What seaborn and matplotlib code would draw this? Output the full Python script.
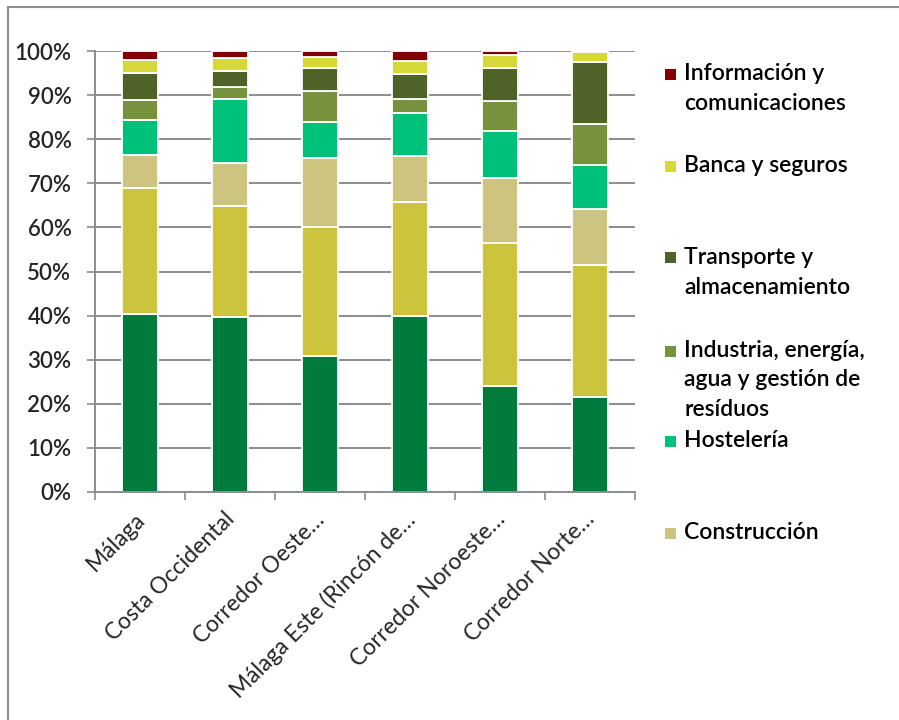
import matplotlib
matplotlib.use("Agg")
import matplotlib.pyplot as plt
import matplotlib.transforms as mtransforms
from matplotlib.patches import Rectangle
from matplotlib.lines import Line2D
from matplotlib.ticker import FixedLocator, FuncFormatter
import seaborn as sns

# Zones (x axis categories)
categories = [
    "Málaga",
    "Costa Occidental",
    "Corredor Oeste…",
    "Málaga Este (Rincón de…",
    "Corredor Noroeste…",
    "Corredor Norte…",
]

# Share of each sector per zone (%), bottom to top of each stack
comercio = [40.4, 39.6, 30.9, 39.8, 24.1, 21.6]
otros_servicios = [28.6, 25.3, 29.3, 26.0, 32.3, 29.8]
construccion = [7.4, 9.8, 15.5, 10.5, 14.9, 12.7]
hosteleria = [8.0, 14.4, 8.1, 9.7, 10.6, 10.0]
industria = [4.5, 2.8, 7.2, 3.1, 6.8, 9.3]
transporte = [6.0, 3.6, 5.2, 5.6, 7.4, 14.0]
banca = [3.1, 2.8, 2.4, 3.1, 3.0, 2.4]
informacion = [2.0, 1.7, 1.4, 2.2, 0.9, 0.2]

y_ticks = list(range(0, 101, 10))

series = [
    ("Comercio", comercio, "#007A3D"),
    ("Otros servicios", otros_servicios, "#CDC43E"),
    ("Construcción", construccion, "#CDC47F"),
    ("Hostelería", hosteleria, "#00C17A"),
    ("Industria, energía,\nagua y gestión de\nresíduos", industria, "#77923C"),
    ("Transporte y\nalmacenamiento", transporte, "#4F6228"),
    ("Banca y seguros", banca, "#D6D83A"),
    ("Información y\ncomunicaciones", informacion, "#800000"),
]

# Legend entries shown (top of the stack first)
legend_entries = [series[7], series[6], series[5], series[4], series[3], series[2]]

sns.set_theme(style="white")
plt.rcParams["font.family"] = ["Lato", "DejaVu Sans"]

W, H = 899, 720
fig = plt.figure(figsize=(W / 100, H / 100), dpi=100)
ax = fig.add_axes([95 / W, 1 - 492 / H, (635 - 95) / W, (492 - 51) / H])

grid_col = "#8C8C8C"

bottom = [0.0] * len(categories)
for name, vals, col in series:
    sns.barplot(x=categories, y=vals, bottom=bottom, color=col, width=0.39,
                edgecolor="white", linewidth=1.3, saturation=1, ax=ax)
    bottom = [b + v for b, v in zip(bottom, vals)]

ax.set_ylim(0, 100)
ax.set_xlim(-0.5, len(categories) - 0.5)
ax.set_axisbelow(True)

# Y axis: percent ticks with horizontal gridlines
ax.yaxis.set_major_locator(FixedLocator(y_ticks))
ax.yaxis.set_major_formatter(FuncFormatter(lambda v, p: f"{v:.0f}%"))
ax.grid(axis="y", color=grid_col, linewidth=1.4)
ax.grid(axis="x", visible=False)
ax.tick_params(axis="y", length=6, width=1.2, color=grid_col, pad=11,
               labelsize=16, left=True, direction="out")
for t in ax.get_yticklabels():
    t.set_fontweight("semibold")

# X axis: tick marks between the categories, rotated labels
ax.xaxis.set_minor_locator(FixedLocator([i - 0.5 for i in range(len(categories) + 1)]))
ax.tick_params(axis="x", which="minor", length=6, width=1.2, color=grid_col,
               direction="out", bottom=True)
ax.tick_params(axis="x", which="major", length=0, pad=12, labelsize=16.5)
ax.set_xticks(range(len(categories)))
ax.set_xticklabels(categories, rotation=45, ha="right", va="top",
                   rotation_mode="anchor")
shift = mtransforms.ScaledTranslation(-6 / 100, 0, fig.dpi_scale_trans)
for t in ax.get_xticklabels():
    t.set_transform(t.get_transform() + shift)
ax.set_xlabel("")
ax.set_ylabel("")

for side in ("top", "right"):
    ax.spines[side].set_visible(False)
for side in ("left", "bottom"):
    ax.spines[side].set_color(grid_col)
    ax.spines[side].set_linewidth(1.4)

# Legend on the right, one entry per fixed slot
slot_y = [74, 166, 258, 351, 441, 533]
for (name, vals, col), yc in zip(legend_entries, slot_y):
    fig.add_artist(Rectangle(((665) / W, 1 - (yc + 5.5) / H), 11 / W, 11 / H,
                             transform=fig.transFigure, facecolor=col,
                             edgecolor="none"))
    fig.text(684 / W, 1 - (yc - 11) / H, name, ha="left", va="top",
             fontsize=16.5, fontweight="semibold", color="black",
             linespacing=1.5)

# Chart frame (top and left edges)
fig.add_artist(Line2D([8 / W, 1], [1 - 6.5 / H, 1 - 6.5 / H],
                      transform=fig.transFigure, color=grid_col, linewidth=1.5))
fig.add_artist(Line2D([8 / W, 8 / W], [0, 1 - 6.5 / H],
                      transform=fig.transFigure, color=grid_col, linewidth=1.5))

fig.savefig("out.png", dpi=100)
